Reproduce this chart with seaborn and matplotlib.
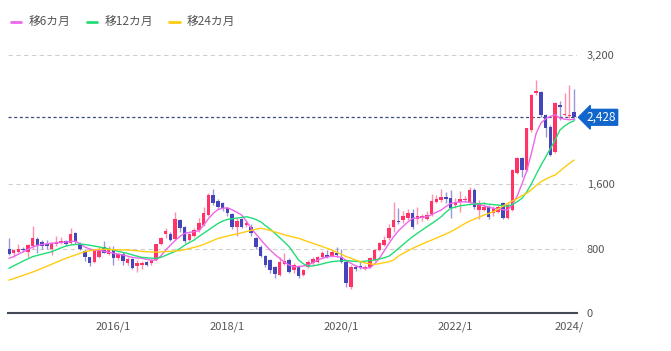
import pandas as pd
import matplotlib.pyplot as plt
import seaborn as sns
from matplotlib.lines import Line2D

# ===== Data (monthly, 2014/3 - 2024/2) =====
months = pd.date_range("2014-03-01", periods=120, freq="MS").strftime("%Y/%-m").tolist()

opens = [794, 740, 760, 800, 760, 830, 920, 880, 860, 800, 855, 864, 893, 872, 988, 850, 770, 690, 632, 700,
         818, 736, 790, 680, 736, 616, 670, 587, 590, 628, 616, 657, 855, 984, 984, 918, 1150, 1063, 905, 950,
         1030, 1091, 1215, 1463, 1393, 1360, 1298, 1224, 1070, 1162, 1087, 1070, 926, 823, 707, 657, 566, 471, 603, 660,
         533, 574, 471, 574, 616, 637, 690, 720, 707, 740, 699, 637, 326, 566, 580, 541, 574, 657, 781, 843,
         926, 1070, 1145, 1157, 1178, 1240, 1160, 1180, 1170, 1225, 1383, 1402, 1443, 1430, 1340, 1380, 1400, 1380, 1525, 1280,
         1280, 1320, 1240, 1256, 1360, 1175, 1277, 1732, 1918, 1773, 2270, 2732, 2745, 2455, 2310, 2000, 2580, 2455, 2443, 2497]
highs = [926, 800, 850, 820, 860, 1085, 940, 900, 900, 880, 950, 940, 910, 1050, 1000, 880, 790, 700, 800, 820,
         890, 830, 830, 740, 760, 690, 686, 660, 640, 640, 670, 860, 940, 1060, 1000, 1250, 1170, 1080, 990, 1050,
         1180, 1320, 1490, 1535, 1420, 1380, 1310, 1240, 1180, 1180, 1140, 1100, 940, 840, 720, 670, 580, 700, 740, 680,
         620, 590, 545, 660, 690, 710, 770, 780, 790, 820, 800, 660, 590, 590, 640, 600, 700, 800, 880, 950,
         1100, 1380, 1300, 1260, 1290, 1290, 1310, 1230, 1260, 1480, 1460, 1540, 1500, 1520, 1430, 1510, 1450, 1560, 1545, 1400,
         1380, 1340, 1330, 1340, 1380, 1360, 1790, 1930, 1940, 2300, 2720, 2894, 2760, 2470, 2330, 2620, 2630, 2734, 2830, 2780]
lows = [719, 700, 750, 760, 700, 800, 740, 790, 790, 720, 830, 850, 830, 860, 860, 780, 650, 580, 620, 680,
        740, 720, 600, 660, 590, 600, 540, 505, 545, 580, 600, 640, 840, 926, 890, 900, 1000, 870, 890, 940,
        1010, 1080, 1200, 1340, 1290, 1260, 1200, 1040, 960, 1050, 1070, 960, 800, 690, 570, 500, 430, 460, 590, 490,
        500, 440, 460, 560, 600, 620, 670, 680, 690, 690, 620, 320, 300, 520, 540, 530, 560, 640, 770, 830,
        910, 1000, 1100, 1120, 1150, 1040, 1100, 1140, 1150, 1200, 1360, 1380, 1360, 1180, 1300, 1250, 1380, 1370, 1290, 1160,
        1260, 1170, 1200, 1240, 1160, 1160, 1260, 1720, 1690, 1760, 2250, 2700, 2430, 2187, 1950, 1990, 2400, 2440, 2420, 2400]
closes = [728, 780, 790, 780, 839, 930, 830, 830, 830, 860, 880, 893, 855, 980, 875, 795, 690, 625, 781, 770,
          750, 790, 680, 727, 645, 670, 562, 620, 620, 600, 657, 851, 926, 1017, 905, 1166, 1050, 893, 975, 1030,
          1120, 1236, 1463, 1370, 1320, 1300, 1236, 1062, 1145, 1070, 1112, 988, 823, 707, 591, 533, 483, 628, 645, 505,
          595, 460, 533, 637, 666, 699, 740, 700, 761, 720, 637, 376, 574, 545, 560, 574, 678, 781, 864, 910,
          1054, 1157, 1125, 1199, 1240, 1062, 1200, 1207, 1215, 1389, 1416, 1443, 1420, 1300, 1380, 1420, 1420, 1525, 1310, 1370,
          1320, 1195, 1285, 1318, 1175, 1340, 1773, 1918, 1773, 2290, 2703, 2757, 2455, 2290, 1960, 2600, 2560, 2475, 2455, 2428]

ma6 = [678, 700, 730, 760, 790, 818, 840, 850, 858, 865, 870, 875, 880, 888, 890, 860, 818, 795, 780, 777,
       765, 755, 742, 731, 720, 705, 690, 682, 678, 665, 655, 657, 710, 781, 840, 900, 950, 988, 1000, 1008,
       1020, 1090, 1170, 1236, 1283, 1300, 1305, 1280, 1250, 1215, 1140, 1050, 980, 910, 843, 780, 725, 678, 630, 595,
       575, 575, 583, 595, 625, 657, 680, 695, 707, 700, 690, 655, 616, 585, 564, 555, 560, 610, 678, 770,
       864, 945, 1020, 1075, 1130, 1174, 1180, 1188, 1194, 1220, 1250, 1277, 1320, 1360, 1370, 1378, 1380, 1372, 1360, 1345,
       1330, 1315, 1298, 1290, 1282, 1277, 1350, 1450, 1600, 1760, 1980, 2228, 2356, 2410, 2439, 2460, 2418, 2405, 2397, 2405]
ma12 = [554, 585, 615, 645, 672, 699, 715, 730, 745, 760, 785, 808, 831, 842, 850, 855, 850, 840, 830, 820,
        808, 795, 780, 765, 752, 738, 720, 705, 690, 685, 680, 678, 690, 715, 740, 765, 800, 840, 875, 905,
        950, 990, 1029, 1070, 1110, 1140, 1161, 1170, 1178, 1185, 1194, 1180, 1160, 1132, 1085, 1040, 988, 935, 880, 822,
        740, 657, 610, 580, 585, 595, 610, 625, 637, 643, 648, 649, 645, 640, 637, 643, 650, 657, 670, 685,
        705, 750, 800, 850, 900, 947, 990, 1030, 1070, 1110, 1150, 1194, 1250, 1298, 1315, 1330, 1339, 1345, 1350, 1355,
        1360, 1350, 1345, 1339, 1332, 1325, 1345, 1380, 1422, 1500, 1600, 1720, 1830, 1935, 2040, 2145, 2270, 2320, 2360, 2385]
ma24 = [407, 427, 447, 467, 488, 508, 532, 556, 580, 605, 630, 655, 678, 700, 720, 740, 760, 772, 782, 790,
        790, 788, 786, 784, 782, 781, 778, 772, 765, 760, 757, 756, 758, 762, 766, 770, 773, 785, 800, 815,
        830, 850, 875, 900, 925, 940, 955, 970, 980, 995, 1010, 1025, 1040, 1050, 1040, 1025, 1005, 988, 970, 955,
        940, 926, 905, 885, 865, 843, 825, 802, 781, 755, 728, 699, 680, 655, 637, 620, 610, 604, 612, 625,
        637, 657, 707, 740, 770, 802, 828, 855, 880, 905, 930, 955, 980, 1008, 1040, 1075, 1110, 1140, 1165, 1190,
        1215, 1235, 1256, 1290, 1325, 1360, 1390, 1420, 1455, 1484, 1530, 1580, 1628, 1660, 1690, 1711, 1760, 1810, 1855, 1897]

tick_months = ["2016/1", "2018/1", "2020/1", "2022/1", "2024/1"]
tick_labels = ["2016/1", "2018/1", "2020/1", "2022/1", "2024/"]
y_ticks = [0, 800, 1600, 3200]
last_price = 2428

# ===== Build frame =====
df = pd.DataFrame({"month": months, "open": opens, "high": highs, "low": lows, "close": closes,
                   "移6カ月": ma6, "移12カ月": ma12, "移24カ月": ma24})
df["pos"] = range(len(df))
up = df["close"] >= df["open"]

sns.set_style("white")
plt.rcParams["font.family"] = ["Noto Sans CJK JP", "DejaVu Sans"]

fig = plt.figure(figsize=(6.71, 3.51), dpi=100)
ax = fig.add_axes([0.0119, 0.1083, 0.8480, 0.7807])

up_col, down_col = "#ff3366", "#4444bb"
colors = [up_col if u else down_col for u in up]

# wicks
ax.vlines(df["pos"], df["low"], df["high"], colors=colors, linewidth=1.0, alpha=0.55, zorder=2)
# bodies
body = (df["close"] - df["open"]).abs().clip(lower=8)
ax.bar(df["pos"], body, bottom=df[["open", "close"]].min(axis=1), width=0.72,
       color=colors, linewidth=0, zorder=3)

# moving averages
ma_cols = {"移6カ月": "#ee66ee", "移12カ月": "#22dd77", "移24カ月": "#ffcc11"}
for name, col in ma_cols.items():
    sns.lineplot(x="pos", y=name, data=df, ax=ax, color=col, linewidth=1.0, zorder=4, legend=False)

# grid & price line
for v in [800, 1600, 3200]:
    ax.axhline(v, color="#d0d0d0", linestyle=(0, (4, 3)), linewidth=0.8, zorder=0)
ax.axhline(last_price, color="#3a4f7a", linestyle=(0, (2.5, 2)), linewidth=0.9, zorder=1)

ax.set_xlim(-0.2, 119.6)
ax.set_ylim(0, 3400)

# axes look
for s in ["top", "left", "right"]:
    ax.spines[s].set_visible(False)
ax.spines["bottom"].set_color("#444a55")
ax.spines["bottom"].set_linewidth(1.5)

ax.set_xticks([months.index(m) for m in tick_months])
ax.set_xticklabels(tick_labels, fontsize=8, color="#555555")
ax.yaxis.tick_right()
ax.set_yticks(y_ticks)
ax.set_yticklabels([f"{v:,}" for v in y_ticks], fontsize=8, color="#555555")
ax.tick_params(axis="x", length=0, pad=6)
ax.tick_params(axis="y", length=0, pad=7)
ax.set_xlabel("")
ax.set_ylabel("")

# last price tag
ax.annotate(f"{last_price:,}", xy=(1.0, last_price), xycoords=("axes fraction", "data"),
            xytext=(7, 0), textcoords="offset points", va="center", ha="left",
            fontsize=8.5, color="white",
            bbox=dict(boxstyle="larrow,pad=0.12", fc="#1166cc", ec="#1166cc"))

# legend
handles = [Line2D([0], [0], color=c, linewidth=2) for c in ma_cols.values()]
fig.legend(handles, list(ma_cols.keys()), loc="upper left", bbox_to_anchor=(0.0, 0.985),
           ncol=3, frameon=False, fontsize=8.5, handlelength=0.9, handletextpad=0.6,
           columnspacing=1.4, labelcolor="#555555")

plt.savefig("out.png", dpi=100)
